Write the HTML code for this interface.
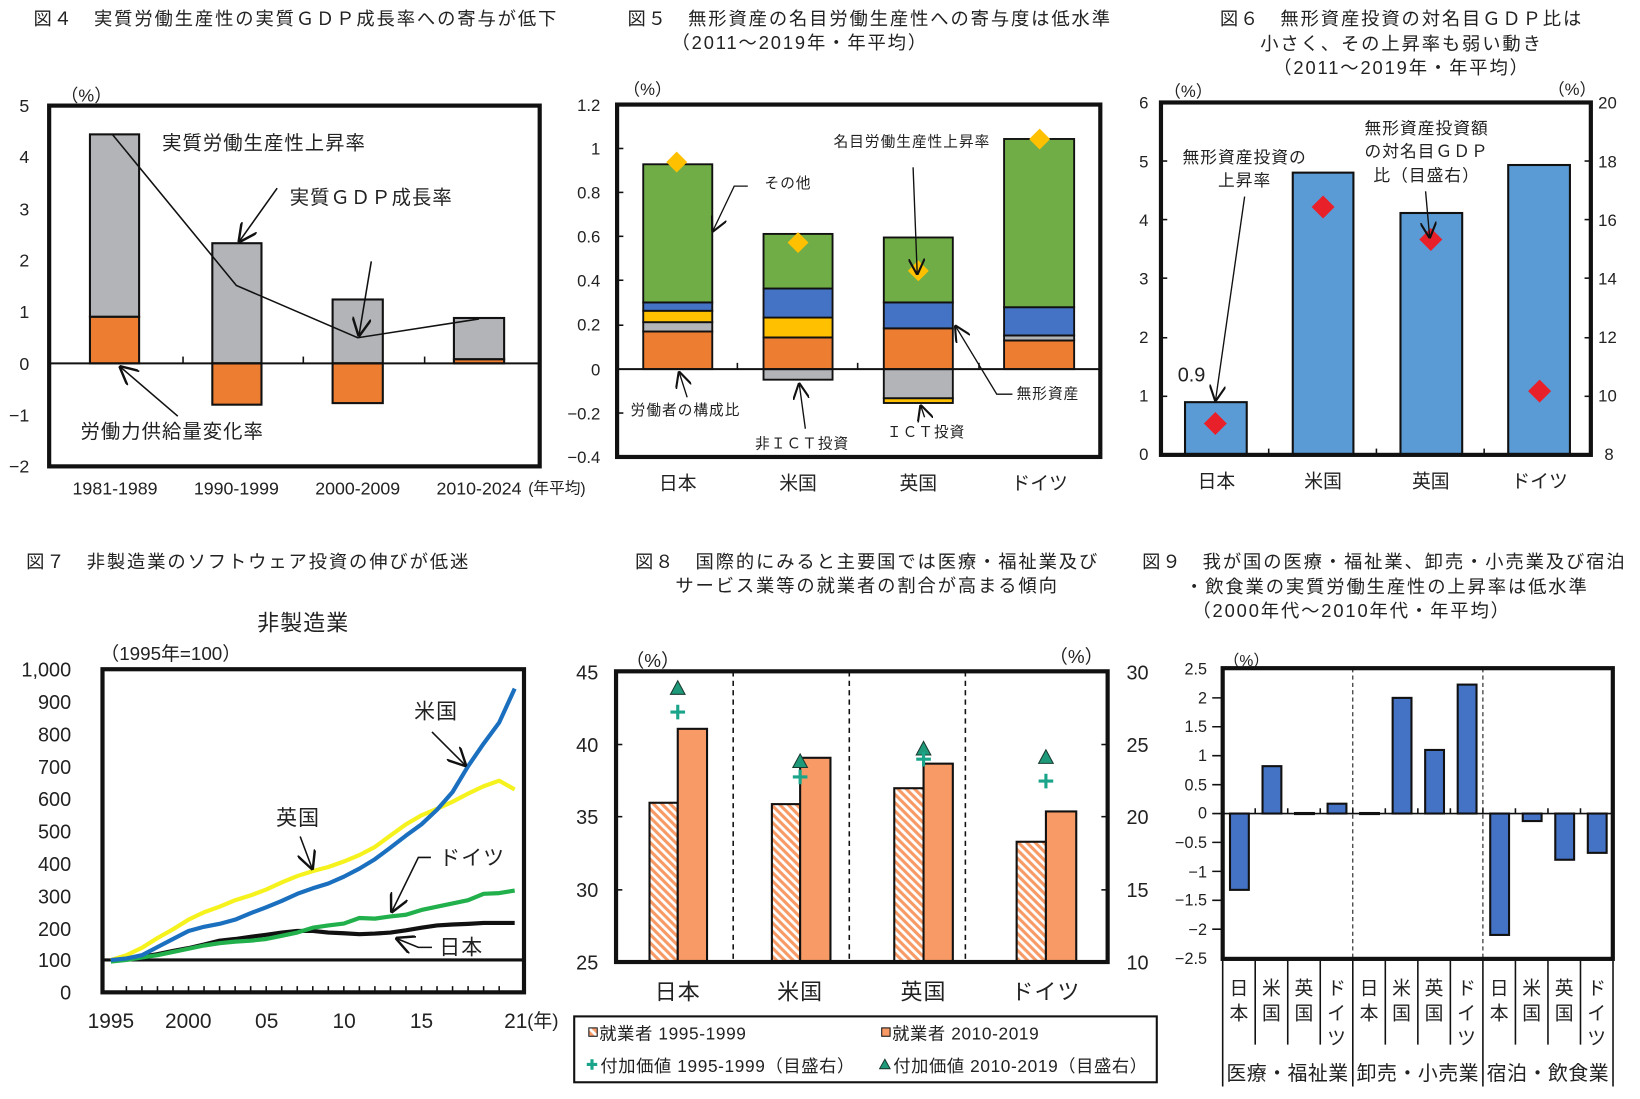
<!DOCTYPE html>
<html><head><meta charset="utf-8"><style>
html,body{margin:0;padding:0;background:#fff}
svg{display:block}
text{font-family:"Liberation Sans","Noto Sans CJK JP",sans-serif;fill:#222}
.t{font-size:17.5px;letter-spacing:1.8px}
</style></head><body>
<svg width="1640" height="1099" viewBox="0 0 1568 1051" preserveAspectRatio="none" xmlns="http://www.w3.org/2000/svg">
<defs>
<pattern id="h" patternUnits="userSpaceOnUse" width="8" height="8">
<rect width="8" height="8" fill="#fff"/>
<path d="M-2,-2 L10,10 M-2,6 L2,10 M6,-2 L10,2" stroke="#f79a65" stroke-width="3"/>
</pattern>
<marker id="ar" viewBox="0 0 10 10" refX="10" refY="5" markerWidth="12" markerHeight="12" orient="auto"><path d="M0,0 L10,5 L0,10" fill="none" stroke="#111" stroke-width="1.3"/></marker>
</defs>

<!-- ===== FIG 4 ===== -->
<text x="32" y="24" class="t">図４　実質労働生産性の実質ＧＤＰ成長率への寄与が低下</text>
<text x="58" y="97" font-size="17">（%）</text>
<g font-size="17" text-anchor="end">
<text x="28" y="107">5</text><text x="28" y="156">4</text><text x="28" y="206">3</text><text x="28" y="255">2</text><text x="28" y="304">1</text><text x="28" y="354">0</text><text x="28" y="403">−1</text><text x="28" y="452">−2</text>
</g>
<g stroke="#111" stroke-width="2">
<rect x="86" y="128.5" width="47" height="174.5" fill="#b2b4b8"/>
<rect x="86" y="303" width="47" height="44.5" fill="#ed7d31"/>
<rect x="203" y="232.6" width="47" height="114.9" fill="#b2b4b8"/>
<rect x="203" y="347.5" width="47" height="39.5" fill="#ed7d31"/>
<rect x="318" y="286.4" width="48" height="61.1" fill="#b2b4b8"/>
<rect x="318" y="347.5" width="48" height="38" fill="#ed7d31"/>
<rect x="434" y="304.1" width="48" height="39.5" fill="#b2b4b8"/>
<rect x="434" y="343.6" width="48" height="3.9" fill="#ed7d31"/>
</g>
<line x1="47" y1="347.5" x2="516" y2="347.5" stroke="#111" stroke-width="2"/>
<g stroke="#111" stroke-width="1.5"><line x1="175" y1="347" x2="175" y2="341"/><line x1="290" y1="347" x2="290" y2="341"/><line x1="406" y1="347" x2="406" y2="341"/></g>
<polyline points="107,128 226,273 342,323 458,305" fill="none" stroke="#111" stroke-width="1.5"/>
<rect x="47" y="101" width="469" height="345" fill="none" stroke="#111" stroke-width="4"/>
<text x="155" y="143" font-size="18.5" letter-spacing="1">実質労働生産性上昇率</text>
<line x1="265" y1="180" x2="228" y2="232" stroke="#111" stroke-width="1.5" marker-end="url(#ar)"/>
<text x="277" y="195" font-size="18.5" letter-spacing="1">実質ＧＤＰ成長率</text>
<line x1="355" y1="250" x2="343" y2="322" stroke="#111" stroke-width="1.5" marker-end="url(#ar)"/>
<text x="77" y="419" font-size="18.5" letter-spacing="1">労働力供給量変化率</text>
<line x1="170" y1="398" x2="114" y2="350" stroke="#111" stroke-width="1.5" marker-end="url(#ar)"/>
<g font-size="17" text-anchor="middle"><text x="110" y="473">1981-1989</text><text x="226" y="473">1990-1999</text><text x="342" y="473">2000-2009</text><text x="458" y="473">2010-2024</text></g>
<text x="505" y="472" font-size="15">(年平均)</text>

<!-- ===== FIG 5 ===== -->
<text x="600" y="24" class="t">図５　無形資産の名目労働生産性への寄与度は低水準</text>
<text x="642" y="47" class="t">（2011～2019年・年平均）</text>
<text x="596" y="91" font-size="16">（%）</text>
<g font-size="16" text-anchor="end">
<text x="574" y="106">1.2</text><text x="574" y="148">1</text><text x="574" y="190">0.8</text><text x="574" y="232">0.6</text><text x="574" y="274">0.4</text><text x="574" y="316">0.2</text><text x="574" y="359">0</text><text x="574" y="401">−0.2</text><text x="574" y="443">−0.4</text>
</g>
<g stroke="#111" stroke-width="1.8">
<rect x="615" y="317" width="66" height="36" fill="#ed7d31"/>
<rect x="615" y="308.1" width="66" height="8.9" fill="#b2b4b8"/>
<rect x="615" y="297.2" width="66" height="10.9" fill="#ffc000"/>
<rect x="615" y="289.2" width="66" height="8" fill="#4472c4"/>
<rect x="615" y="157.1" width="66" height="132.1" fill="#70ad47"/>
<rect x="730" y="353" width="66" height="10.1" fill="#b2b4b8"/>
<rect x="730" y="322.7" width="66" height="30.3" fill="#ed7d31"/>
<rect x="730" y="303.7" width="66" height="19" fill="#ffc000"/>
<rect x="730" y="275.9" width="66" height="27.8" fill="#4472c4"/>
<rect x="730" y="223.7" width="66" height="52.2" fill="#70ad47"/>
<rect x="845" y="380.8" width="66" height="4.6" fill="#ffc000"/>
<rect x="845" y="353" width="66" height="27.8" fill="#b2b4b8"/>
<rect x="845" y="314" width="66" height="39" fill="#ed7d31"/>
<rect x="845" y="289.2" width="66" height="24.8" fill="#4472c4"/>
<rect x="845" y="227.1" width="66" height="62.1" fill="#70ad47"/>
<rect x="960" y="325.6" width="67" height="27.4" fill="#ed7d31"/>
<rect x="960" y="320.8" width="67" height="4.8" fill="#b2b4b8"/>
<rect x="960" y="293.8" width="67" height="27" fill="#4472c4"/>
<rect x="960" y="132.9" width="67" height="160.9" fill="#70ad47"/>
</g>
<line x1="590" y1="353" x2="1052" y2="353" stroke="#111" stroke-width="2"/>
<g stroke="#111" stroke-width="1.5"><line x1="705" y1="353" x2="705" y2="347"/><line x1="820" y1="353" x2="820" y2="347"/><line x1="936" y1="353" x2="936" y2="347"/>
<line x1="590" y1="142" x2="596" y2="142"/><line x1="590" y1="184" x2="596" y2="184"/><line x1="590" y1="226" x2="596" y2="226"/><line x1="590" y1="268" x2="596" y2="268"/><line x1="590" y1="311" x2="596" y2="311"/><line x1="590" y1="395" x2="596" y2="395"/></g>
<g fill="#ffc000"><path d="M647,145 L657,155 L647,165 L637,155Z"/><path d="M763,222 L773,232 L763,242 L753,232Z"/><path d="M878,249 L888,259 L878,269 L868,259Z"/><path d="M994,123 L1004,133 L994,143 L984,133Z"/></g>
<rect x="590" y="100" width="462" height="337" fill="none" stroke="#111" stroke-width="4"/>
<g font-size="14" letter-spacing="1">
<text x="797" y="140">名目労働生産性上昇率</text>
<text x="731" y="180">その他</text>
<text x="603" y="397">労働者の構成比</text>
<text x="722" y="429">非ＩＣＴ投資</text>
<text x="848" y="418">ＩＣＴ投資</text>
<text x="972" y="381">無形資産</text>
</g>
<g stroke="#111" stroke-width="1.3" fill="none">
<line x1="873" y1="160" x2="877" y2="263" marker-end="url(#ar)"/>
<polyline points="715,178 702,178 681,222" marker-end="url(#ar)"/>
<line x1="657" y1="380" x2="649" y2="355" marker-end="url(#ar)"/>
<line x1="770" y1="410" x2="764" y2="366" marker-end="url(#ar)"/>
<line x1="884" y1="399" x2="880" y2="387" marker-end="url(#ar)"/>
<polyline points="968,377 953,377 913,311" marker-end="url(#ar)"/>
</g>
<g font-size="18" text-anchor="middle"><text x="648" y="468">日本</text><text x="763" y="468">米国</text><text x="878" y="468">英国</text><text x="994" y="468">ドイツ</text></g>

<!-- ===== FIG 6 ===== -->
<g text-anchor="middle" class="t">
<text x="1340" y="24">図６　無形資産投資の対名目ＧＤＰ比は</text>
<text x="1340" y="48">小さく、その上昇率も弱い動き</text>
<text x="1340" y="71">（2011～2019年・年平均）</text>
</g>
<text x="1113" y="93" font-size="16">（%）</text>
<text x="1480" y="91" font-size="16">（%）</text>
<g font-size="16" text-anchor="end">
<text x="1098" y="104">6</text><text x="1098" y="160">5</text><text x="1098" y="216">4</text><text x="1098" y="272">3</text><text x="1098" y="328">2</text><text x="1098" y="384">1</text><text x="1098" y="440">0</text>
</g>
<g font-size="16">
<text x="1528" y="104">20</text><text x="1528" y="160">18</text><text x="1528" y="216">16</text><text x="1528" y="272">14</text><text x="1528" y="328">12</text><text x="1528" y="384">10</text><text x="1534" y="440">8</text>
</g>
<g stroke="#111" stroke-width="2" fill="#5b9bd5">
<rect x="1133" y="384.6" width="59" height="50.4"/>
<rect x="1236" y="165.1" width="58" height="269.9"/>
<rect x="1339" y="203.7" width="59" height="231.3"/>
<rect x="1442" y="157.8" width="59" height="277.2"/>
</g>
<g stroke="#111" stroke-width="1.5">
<line x1="1110" y1="154" x2="1116" y2="154"/><line x1="1110" y1="210" x2="1116" y2="210"/><line x1="1110" y1="266" x2="1116" y2="266"/><line x1="1110" y1="323" x2="1116" y2="323"/><line x1="1110" y1="379" x2="1116" y2="379"/>
<line x1="1515" y1="154" x2="1521" y2="154"/><line x1="1515" y1="210" x2="1521" y2="210"/><line x1="1515" y1="266" x2="1521" y2="266"/><line x1="1515" y1="323" x2="1521" y2="323"/><line x1="1515" y1="379" x2="1521" y2="379"/>
<line x1="1213" y1="435" x2="1213" y2="429"/><line x1="1316" y1="435" x2="1316" y2="429"/><line x1="1419" y1="435" x2="1419" y2="429"/>
</g>
<g fill="#e8202a"><path d="M1162,394 L1173,405 L1162,416 L1151,405Z"/><path d="M1265,187 L1276,198 L1265,209 L1254,198Z"/><path d="M1368,218 L1379,229 L1368,240 L1357,229Z"/><path d="M1472,363 L1483,374 L1472,385 L1461,374Z"/></g>
<rect x="1110" y="98" width="411" height="337" fill="none" stroke="#111" stroke-width="4"/>
<g font-size="16" letter-spacing="1" text-anchor="middle">
<text x="1190" y="156">無形資産投資の</text><text x="1190" y="178">上昇率</text>
<text x="1364" y="128">無形資産投資額</text><text x="1364" y="150">の対名目ＧＤＰ</text><text x="1364" y="173">比（目盛右）</text>
</g>
<text x="1126" y="365" font-size="19">0.9</text>
<g stroke="#111" stroke-width="1.3" fill="none">
<line x1="1190" y1="188" x2="1162" y2="384" marker-end="url(#ar)"/>
<line x1="1363" y1="183" x2="1367" y2="228" marker-end="url(#ar)"/>
</g>
<g font-size="18" text-anchor="middle"><text x="1163" y="466">日本</text><text x="1265" y="466">米国</text><text x="1368" y="466">英国</text><text x="1472" y="466">ドイツ</text></g>

<!-- ===== FIG 7 ===== -->
<text x="25" y="543" class="t">図７　非製造業のソフトウェア投資の伸びが低迷</text>
<text x="290" y="603" font-size="21" letter-spacing="1" text-anchor="middle">非製造業</text>
<text x="96" y="631" font-size="18">（1995年=100）</text>
<g font-size="19" text-anchor="end">
<text x="68" y="647">1,000</text><text x="68" y="678">900</text><text x="68" y="709">800</text><text x="68" y="740">700</text><text x="68" y="771">600</text><text x="68" y="802">500</text><text x="68" y="833">400</text><text x="68" y="864">300</text><text x="68" y="895">200</text><text x="68" y="925">100</text><text x="68" y="956">0</text>
</g>
<g stroke="#111" stroke-width="1.5">
<path d="M120.85,949v-6M135.7,949v-6M150.55,949v-6M165.4,949v-6M180.25,949v-6M195.1,949v-6M209.95,949v-6M224.8,949v-6M239.65,949v-6M254.5,949v-6M269.35,949v-6M284.2,949v-6M299.05,949v-6M313.9,949v-6M328.75,949v-6M343.6,949v-6M358.45,949v-6M373.3,949v-6M388.15,949v-6M403,949v-6M417.85,949v-6M432.7,949v-6M447.55,949v-6M462.4,949v-6M477.25,949v-6"/>
</g>
<line x1="98" y1="918" x2="501" y2="918" stroke="#111" stroke-width="3"/>
<g fill="none" stroke-width="4" stroke-linejoin="round">
<polyline stroke="#111" points="106,918.1 120.85,917.2 135.7,915 150.55,912.5 165.4,909.4 180.25,906.7 195.1,903.3 209.95,899.6 224.8,898 239.65,895.9 254.5,894 269.35,891.8 284.2,890.3 299.05,890.3 313.9,891.8 328.75,892.5 343.6,893.4 358.45,892.8 373.3,891.8 388.15,889.7 403,887.2 417.85,885 432.7,884.1 447.55,883.5 462.4,882.6 477.25,882.6 492.1,882.6"/>
<polyline stroke="#21b04b" points="106,919.5 120.85,918 135.7,915.6 150.55,913.5 165.4,910.4 180.25,907.3 195.1,904.2 209.95,902 224.8,900.5 239.65,899.6 254.5,898 269.35,894.9 284.2,891.8 299.05,887.2 313.9,885 328.75,883.2 343.6,877.9 358.45,878.5 373.3,876.4 388.15,874.8 403,870.2 417.85,867.1 432.7,864 447.55,860.9 462.4,854.8 477.25,854.1 492.1,851.7"/>
<polyline stroke="#f5f21e" points="106,918.1 120.85,913.5 135.7,906.4 150.55,897.1 165.4,888.7 180.25,879.5 195.1,872.4 209.95,867.1 224.8,860.9 239.65,856.3 254.5,850.7 269.35,843.9 284.2,837.8 299.05,833.1 313.9,829.1 328.75,823.9 343.6,817.7 358.45,810 373.3,799.1 388.15,788.3 403,779.7 417.85,773.5 432.7,766.7 447.55,759 462.4,751.9 477.25,746.6 492.1,755"/>
<polyline stroke="#1b6fbf" points="106,918.1 120.85,916.6 135.7,913.5 150.55,905.7 165.4,898 180.25,890.3 195.1,886.3 209.95,883.5 224.8,879.5 239.65,873.3 254.5,867.7 269.35,861.6 284.2,854.8 299.05,849.5 313.9,844.9 328.75,838.4 343.6,830.7 358.45,821.7 373.3,810.6 388.15,799.1 403,788.3 417.85,774.4 432.7,757.4 447.55,732.7 462.4,711.1 477.25,691 492.1,658.5"/>
</g>
<rect x="98" y="640" width="403" height="309" fill="none" stroke="#111" stroke-width="4"/>
<g font-size="20" letter-spacing="1">
<text x="396" y="687">米国</text><text x="264" y="789">英国</text><text x="420" y="827">ドイツ</text><text x="420" y="913">日本</text>
</g>
<g stroke="#111" stroke-width="1.5" fill="none">
<line x1="413" y1="700" x2="446" y2="733" marker-end="url(#ar)"/>
<line x1="287" y1="800" x2="299" y2="832" marker-end="url(#ar)"/>
<polyline points="412,820 400,820 374,873" marker-end="url(#ar)"/>
<polyline points="413,906 400,906 378,897" marker-end="url(#ar)"/>
</g>
<g font-size="20" text-anchor="middle"><text x="106" y="983">1995</text><text x="180" y="983">2000</text><text x="255" y="983">05</text><text x="329" y="983">10</text><text x="403" y="983">15</text></g>
<text x="482" y="983" font-size="20">21</text><text x="504" y="982" font-size="18">(年)</text>

<!-- ===== FIG 8 ===== -->
<g class="t" text-anchor="middle">
<text x="829" y="543">図８　国際的にみると主要国では医療・福祉業及び</text>
<text x="829" y="566">サービス業等の就業者の割合が高まる傾向</text>
</g>
<text x="598" y="638" font-size="18">（%）</text>
<text x="1003" y="634" font-size="18">（%）</text>
<g font-size="19" text-anchor="end">
<text x="572" y="650">45</text><text x="572" y="719">40</text><text x="572" y="788">35</text><text x="572" y="858">30</text><text x="572" y="927">25</text>
</g>
<g font-size="19">
<text x="1077" y="650">30</text><text x="1077" y="719">25</text><text x="1077" y="788">20</text><text x="1077" y="858">15</text><text x="1077" y="927">10</text>
</g>
<g stroke="#111" stroke-width="1.5" stroke-dasharray="5,4"><line x1="701" y1="642" x2="701" y2="920"/><line x1="812" y1="642" x2="812" y2="920"/><line x1="923" y1="642" x2="923" y2="920"/></g>
<g stroke="#111" stroke-width="1.5">
<line x1="589" y1="712" x2="595" y2="712"/><line x1="589" y1="781" x2="595" y2="781"/><line x1="589" y1="851" x2="595" y2="851"/>
<line x1="1053" y1="712" x2="1059" y2="712"/><line x1="1053" y1="781" x2="1059" y2="781"/><line x1="1053" y1="851" x2="1059" y2="851"/>
</g>
<g stroke="#111" stroke-width="2">
<rect x="621" y="767.7" width="27" height="152.3" fill="url(#h)"/>
<rect x="648" y="697" width="28" height="223" fill="#f79a65"/>
<rect x="738" y="769" width="27" height="151" fill="url(#h)"/>
<rect x="765" y="724.7" width="29" height="195.3" fill="#f79a65"/>
<rect x="855" y="753.8" width="28" height="166.2" fill="url(#h)"/>
<rect x="883" y="730.3" width="28" height="189.7" fill="#f79a65"/>
<rect x="972" y="805" width="28" height="115" fill="url(#h)"/>
<rect x="1000" y="776" width="29" height="144" fill="#f79a65"/>
</g>
<g fill="#1e9a7a" stroke="#1a3a30" stroke-width="1">
<path d="M648,651 L655,664 L641,664Z"/><path d="M765,721 L772,734 L758,734Z"/><path d="M883,709 L890,722 L876,722Z"/><path d="M1000,717 L1007,730 L993,730Z"/>
</g>
<g stroke="#1aa58a" stroke-width="3">
<path d="M641,681h14M648,674v14"/><path d="M758,743h14M765,736v14"/><path d="M876,726h14M883,719v14"/><path d="M993,747h14M1000,740v14"/>
</g>
<rect x="589" y="642" width="470" height="278" fill="none" stroke="#111" stroke-width="4"/>
<g font-size="21" letter-spacing="1" text-anchor="middle"><text x="648" y="956">日本</text><text x="765" y="956">米国</text><text x="883" y="956">英国</text><text x="1000" y="956">ドイツ</text></g>
<rect x="549" y="972" width="557" height="63" fill="none" stroke="#111" stroke-width="2"/>
<rect x="563" y="983" width="8" height="8" fill="url(#h)" stroke="#111" stroke-width="1"/>
<rect x="843" y="983" width="8" height="8" fill="#f79a65" stroke="#111" stroke-width="1"/>
<path d="M561,1018h10M566,1013v10" stroke="#1aa58a" stroke-width="3"/>
<path d="M846,1013 L851,1022 L841,1022Z" fill="#1e9a7a" stroke="#1a3a30" stroke-width="1"/>
<g font-size="16.5" letter-spacing="0.6">
<text x="573" y="994">就業者 1995-1999</text>
<text x="853" y="994">就業者 2010-2019</text>
<text x="574" y="1025">付加価値 1995-1999（目盛右）</text>
<text x="854" y="1025">付加価値 2010-2019（目盛右）</text>
</g>

<!-- ===== FIG 9 ===== -->
<text x="1092" y="543" class="t">図９　我が国の医療・福祉業、卸売・小売業及び宿泊</text>
<text x="1133" y="567" class="t">・飲食業の実質労働生産性の上昇率は低水準</text>
<text x="1140" y="590" class="t">（2000年代～2010年代・年平均）</text>
<text x="1170" y="637" font-size="15">（%）</text>
<g font-size="15.5" text-anchor="end">
<text x="1154" y="645">2.5</text><text x="1154" y="673">2</text><text x="1154" y="700">1.5</text><text x="1154" y="728">1</text><text x="1154" y="756">0.5</text><text x="1154" y="783">0</text><text x="1154" y="811">−0.5</text><text x="1154" y="839">−1</text><text x="1154" y="866">−1.5</text><text x="1154" y="894">−2</text><text x="1154" y="922">−2.5</text>
</g>
<g stroke="#111" stroke-width="1" stroke-dasharray="4,3"><line x1="1293.4" y1="639" x2="1293.4" y2="917"/><line x1="1417.8" y1="639" x2="1417.8" y2="917"/></g>
<g fill="#4472c4" stroke="#111" stroke-width="2">
<rect x="1176" y="778" width="18" height="73"/>
<rect x="1207.1" y="732.7" width="18" height="45.3"/>
<rect x="1238.2" y="777.5" width="18" height="1"/>
<rect x="1269.3" y="768.6" width="18" height="9.4"/>
<rect x="1300.4" y="777.5" width="18" height="1"/>
<rect x="1331.5" y="667.4" width="18" height="110.6"/>
<rect x="1362.6" y="717.2" width="18" height="60.8"/>
<rect x="1393.7" y="654.7" width="18" height="123.3"/>
<rect x="1424.8" y="778" width="18" height="116.1"/>
<rect x="1455.9" y="778" width="18" height="7.2"/>
<rect x="1487" y="778" width="18" height="44.2"/>
<rect x="1518.1" y="778" width="18" height="37.6"/>
</g>
<line x1="1169" y1="778" x2="1542" y2="778" stroke="#111" stroke-width="1.5"/>
<g stroke="#111" stroke-width="1.5"><path d="M1200.1,778v-5M1231.2,778v-5M1262.3,778v-5M1293.4,778v-5M1324.5,778v-5M1355.6,778v-5M1386.7,778v-5M1417.8,778v-5M1448.9,778v-5M1480,778v-5M1511.1,778v-5"/></g>
<g stroke="#111" stroke-width="1.5"><path d="M1159,778h10M1159,750.4h10M1159,722.7h10M1159,695h10M1159,667.4h10M1159,805.6h10M1159,833.3h10M1159,861h10M1159,888.6h10"/></g>
<rect x="1169" y="639" width="373" height="278" fill="none" stroke="#111" stroke-width="4"/>
<g stroke="#111" stroke-width="1.5">
<path d="M1169,919v120M1293.4,919v120M1417.8,919v120M1542.2,919v120"/>
<path d="M1200.1,919v80M1231.2,919v80M1262.3,919v80M1324.5,919v80M1355.6,919v80M1386.7,919v80M1448.9,919v80M1480,919v80M1511.1,919v80"/>
</g>
<g font-size="18" text-anchor="middle">
<text x="1184.5" y="951">日</text><text x="1184.5" y="975">本</text>
<text x="1215.6" y="951">米</text><text x="1215.6" y="975">国</text>
<text x="1246.7" y="951">英</text><text x="1246.7" y="975">国</text>
<text x="1277.8" y="951">ド</text><text x="1277.8" y="975">イ</text><text x="1277.8" y="999">ツ</text>
<text x="1308.9" y="951">日</text><text x="1308.9" y="975">本</text>
<text x="1340" y="951">米</text><text x="1340" y="975">国</text>
<text x="1371.1" y="951">英</text><text x="1371.1" y="975">国</text>
<text x="1402.2" y="951">ド</text><text x="1402.2" y="975">イ</text><text x="1402.2" y="999">ツ</text>
<text x="1433.3" y="951">日</text><text x="1433.3" y="975">本</text>
<text x="1464.4" y="951">米</text><text x="1464.4" y="975">国</text>
<text x="1495.5" y="951">英</text><text x="1495.5" y="975">国</text>
<text x="1526.6" y="951">ド</text><text x="1526.6" y="975">イ</text><text x="1526.6" y="999">ツ</text>
</g>
<g font-size="19" letter-spacing="0.5" text-anchor="middle">
<text x="1231" y="1033">医療・福祉業</text>
<text x="1355.6" y="1033">卸売・小売業</text>
<text x="1480" y="1033">宿泊・飲食業</text>
</g>
</svg>
</body></html>
